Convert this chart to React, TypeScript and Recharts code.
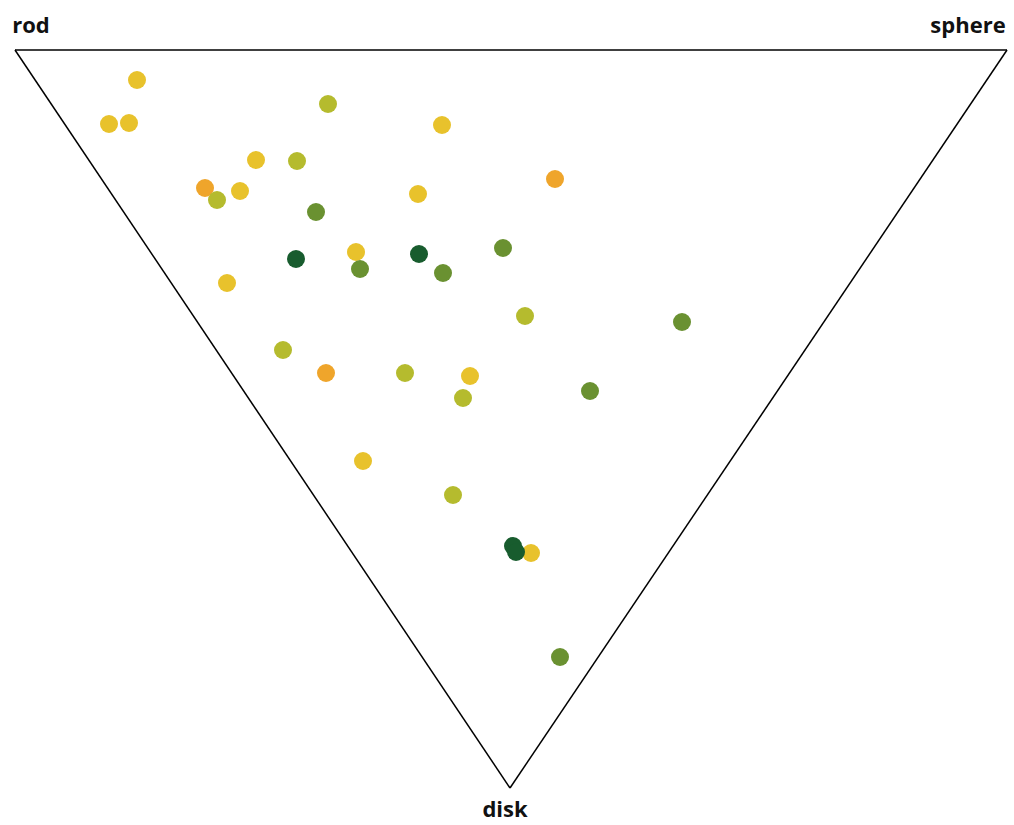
import { ScatterChart, Scatter, XAxis, YAxis, ReferenceLine, ReferenceDot } from "recharts";

// vertices of the (inverted) ternary triangle, in page pixels
const vertices = [
  { name: "rod", x: 15, y: 50 },
  { name: "sphere", x: 1007, y: 50 },
  { name: "disk", x: 510, y: 788 },
];

const vertexLabels = [
  { text: "rod", x: 31, y: 25 },
  { text: "sphere", x: 968, y: 25 },
  { text: "disk", x: 505, y: 809 },
];

const orangePts = [
  { x: 205, y: 188 },
  { x: 555, y: 179 },
  { x: 326, y: 373 },
];

const yellowPts = [
  { x: 137, y: 80 },
  { x: 109, y: 124 },
  { x: 129, y: 123 },
  { x: 442, y: 125 },
  { x: 256, y: 160 },
  { x: 240, y: 191 },
  { x: 418, y: 194 },
  { x: 356, y: 252 },
  { x: 227, y: 283 },
  { x: 470, y: 376 },
  { x: 363, y: 461 },
  { x: 531, y: 553 },
];

const olivePts = [
  { x: 328, y: 104 },
  { x: 297, y: 161 },
  { x: 217, y: 200 },
  { x: 525, y: 316 },
  { x: 283, y: 350 },
  { x: 405, y: 373 },
  { x: 463, y: 398 },
  { x: 453, y: 495 },
];

const greenPts = [
  { x: 316, y: 212 },
  { x: 360, y: 269 },
  { x: 443, y: 273 },
  { x: 503, y: 248 },
  { x: 682, y: 322 },
  { x: 590, y: 391 },
  { x: 560, y: 657 },
];

const darkPts = [
  { x: 296, y: 259 },
  { x: 419, y: 254 },
  { x: 513, y: 546 },
  { x: 516, y: 552 },
];

const groups = [
  { key: "orange", data: orangePts, color: "#EFA52B" },
  { key: "yellow", data: yellowPts, color: "#E8C22C" },
  { key: "olive", data: olivePts, color: "#B5BB2E" },
  { key: "green", data: greenPts, color: "#6A9131" },
  { key: "dark", data: darkPts, color: "#185C2E" },
];

const dot = (color: string) => (props: any) => (
  <circle cx={props.cx} cy={props.cy} r={9} fill={color} />
);

export default function App() {
  return (
    <div style={{ position: "absolute", left: 0, top: 0, background: "#fff" }}>
      <ScatterChart width={1014} height={825} margin={{ top: 0, right: 0, bottom: 0, left: 0 }}>
        <XAxis type="number" dataKey="x" domain={[0, 1014]} hide />
        <YAxis type="number" dataKey="y" domain={[0, 825]} reversed hide />
        {vertices.map((v, i) => {
          const w = vertices[(i + 1) % vertices.length];
          return (
            <ReferenceLine
              key={v.name}
              segment={[{ x: v.x, y: v.y }, { x: w.x, y: w.y }]}
              stroke="#000"
              strokeWidth={1.5}
              ifOverflow="visible"
            />
          );
        })}
        {groups.map((g) => (
          <Scatter
            key={g.key}
            data={g.data}
            fill={g.color}
            shape={dot(g.color)}
            isAnimationActive={false}
          />
        ))}
        {vertexLabels.map((l) => (
          <ReferenceDot
            key={l.text}
            x={l.x}
            y={l.y}
            r={0}
            stroke="none"
            ifOverflow="visible"
            label={{
              value: l.text,
              position: "center",
              fill: "#111",
              fontSize: 22,
              fontWeight: 700,
              fontFamily: "'Open Sans', sans-serif",
            }}
          />
        ))}
      </ScatterChart>
    </div>
  );
}
